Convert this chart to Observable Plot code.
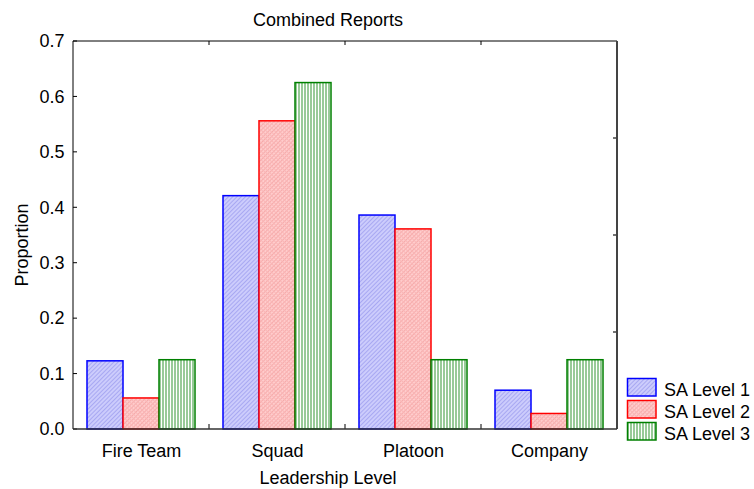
<!DOCTYPE html>
<html><head><meta charset="utf-8">
<script src="https://cdn.jsdelivr.net/npm/d3@7"></script>
<script src="https://cdn.jsdelivr.net/npm/@observablehq/plot@0.6"></script>
<style>
body{margin:0;background:#fff;}
svg{font-family:"Liberation Sans",Arial,sans-serif;}
</style>
</head><body><div id="chart"></div>
<script>
const categories = ["Fire Team", "Squad", "Platoon", "Company"];
const series = ["SA Level 1", "SA Level 2", "SA Level 3"];
const level1 = [0.123, 0.421, 0.386, 0.070];
const level2 = [0.056, 0.556, 0.361, 0.028];
const level3 = [0.125, 0.625, 0.125, 0.125];
const yTicks = [0, 0.1, 0.2, 0.3, 0.4, 0.5, 0.6, 0.7];
const rightTicks = [0.175, 0.35, 0.525];
const titleText = "Combined Reports";
const xTitle = "Leadership Level";
const yTitle = "Proportion";

const patternIds = ["patBlue", "patRed", "patGreen"];
const strokes = ["#0000ff", "#ff0000", "#008000"];
const seriesValues = [level1, level2, level3];

const data = categories.flatMap((c, i) =>
  series.map((s, j) => ({category: c, series: s, value: seriesValues[j][i]})));

const chart = Plot.plot({
  width: 754, height: 489,
  marginLeft: 73, marginRight: 137, marginTop: 41, marginBottom: 60,
  style: {fontFamily: "'Liberation Sans', Arial, sans-serif", fontSize: "18px", color: "#000", background: "#fff"},
  fx: {domain: categories, padding: 0, label: null},
  x: {domain: series, paddingInner: 0, paddingOuter: 0.368, axis: null},
  y: {domain: [0, 0.7], label: null},
  marks: [
    ...series.map((s, j) => Plot.barY(data, {
      filter: d => d.series === s,
      fx: "category", x: "series", y: "value",
      fill: `url(#${patternIds[j]})`, stroke: strokes[j], strokeWidth: 1.5
    })),
    Plot.axisY({ticks: yTicks, tickFormat: d3.format(".1f"), tickSize: 0, tickPadding: 9, label: null, fontSize: 18}),
    Plot.axisFx({anchor: "bottom", tickSize: 0, tickPadding: 15, label: null, fontSize: 18})
  ]
});
document.getElementById("chart").append(chart);

const svg = d3.select(chart);
const defs = svg.insert("defs", ":first-child");
// blue diagonal hatch
const pb = defs.append("pattern").attr("id", "patBlue").attr("patternUnits", "userSpaceOnUse")
  .attr("width", 3).attr("height", 3).attr("patternTransform", "rotate(45)");
pb.append("rect").attr("width", 3).attr("height", 3).attr("fill", "#ccccfc");
pb.append("rect").attr("width", 1).attr("height", 3).attr("fill", "#a8a8f2");
// red cross hatch
const pr = defs.append("pattern").attr("id", "patRed").attr("patternUnits", "userSpaceOnUse")
  .attr("width", 3).attr("height", 3).attr("patternTransform", "rotate(45)");
pr.append("rect").attr("width", 3).attr("height", 3).attr("fill", "#ffcccc");
pr.append("rect").attr("width", 1).attr("height", 3).attr("fill", "#f6aaaa");
pr.append("rect").attr("width", 3).attr("height", 1).attr("fill", "#f9b6b6");
// green vertical stripes
const pg = defs.append("pattern").attr("id", "patGreen").attr("patternUnits", "userSpaceOnUse")
  .attr("width", 3).attr("height", 3);
pg.append("rect").attr("width", 3).attr("height", 3).attr("fill", "#ffffff");
pg.append("rect").attr("width", 2).attr("height", 3).attr("fill", "#98ca98");

const fxScale = chart.scale("fx");
const yScale = chart.scale("y");
const frameLeft = fxScale.range[0], frameRight = fxScale.range[1];
const frameTop = yScale.apply(0.7), frameBottom = yScale.apply(0);
const g = svg.append("g").attr("fill", "none");

// inward ticks on top and bottom at category boundaries
categories.slice(1).forEach(c => {
  const xb = fxScale.apply(c);
  g.append("line").attr("x1", xb).attr("x2", xb).attr("y1", frameTop).attr("y2", frameTop + 4).attr("stroke", "#000");
  g.append("line").attr("x1", xb).attr("x2", xb).attr("y1", frameBottom).attr("y2", frameBottom - 5).attr("stroke", "#000");
});
// left inward ticks
yTicks.forEach(v => {
  g.append("line").attr("x1", frameLeft).attr("x2", frameLeft + 4).attr("y1", yScale.apply(v)).attr("y2", yScale.apply(v)).attr("stroke", "#000");
});
// right inward ticks
rightTicks.forEach(v => {
  g.append("line").attr("x1", frameRight).attr("x2", frameRight - 4).attr("y1", yScale.apply(v)).attr("y2", yScale.apply(v)).attr("stroke", "#444").attr("stroke-width", 1.5);
});
// frame
g.append("line").attr("x1", frameLeft).attr("x2", frameRight).attr("y1", frameTop).attr("y2", frameTop).attr("stroke", "#000");
g.append("line").attr("x1", frameLeft).attr("x2", frameLeft).attr("y1", frameTop).attr("y2", frameBottom).attr("stroke", "#000");
g.append("line").attr("x1", frameRight).attr("x2", frameRight).attr("y1", frameTop).attr("y2", frameBottom).attr("stroke", "#444").attr("stroke-width", 2);
g.append("line").attr("x1", frameLeft).attr("x2", frameRight).attr("y1", frameBottom).attr("y2", frameBottom).attr("stroke", "#333").attr("stroke-width", 1.5);

// titles
const t = svg.append("g").attr("fill", "#000").attr("font-size", 18);
t.append("text").attr("x", 328).attr("y", 26).attr("text-anchor", "middle").text(titleText);
t.append("text").attr("x", 328).attr("y", 484).attr("text-anchor", "middle").text(xTitle);
t.append("text").attr("transform", "translate(28,245) rotate(-90)").attr("text-anchor", "middle").text(yTitle);

// legend
const lg = svg.append("g");
series.forEach((s, j) => {
  const yy = 378.5 + j * 22;
  lg.append("rect").attr("x", 627.5).attr("y", yy).attr("width", 28.5).attr("height", 17.5)
    .attr("fill", `url(#${patternIds[j]})`).attr("stroke", strokes[j]).attr("stroke-width", 1.5);
  lg.append("text").attr("x", 664).attr("y", yy + 17).attr("font-size", 18).attr("fill", "#000")
    .attr("text-anchor", "start").text(s);
});
</script>
</body></html>
